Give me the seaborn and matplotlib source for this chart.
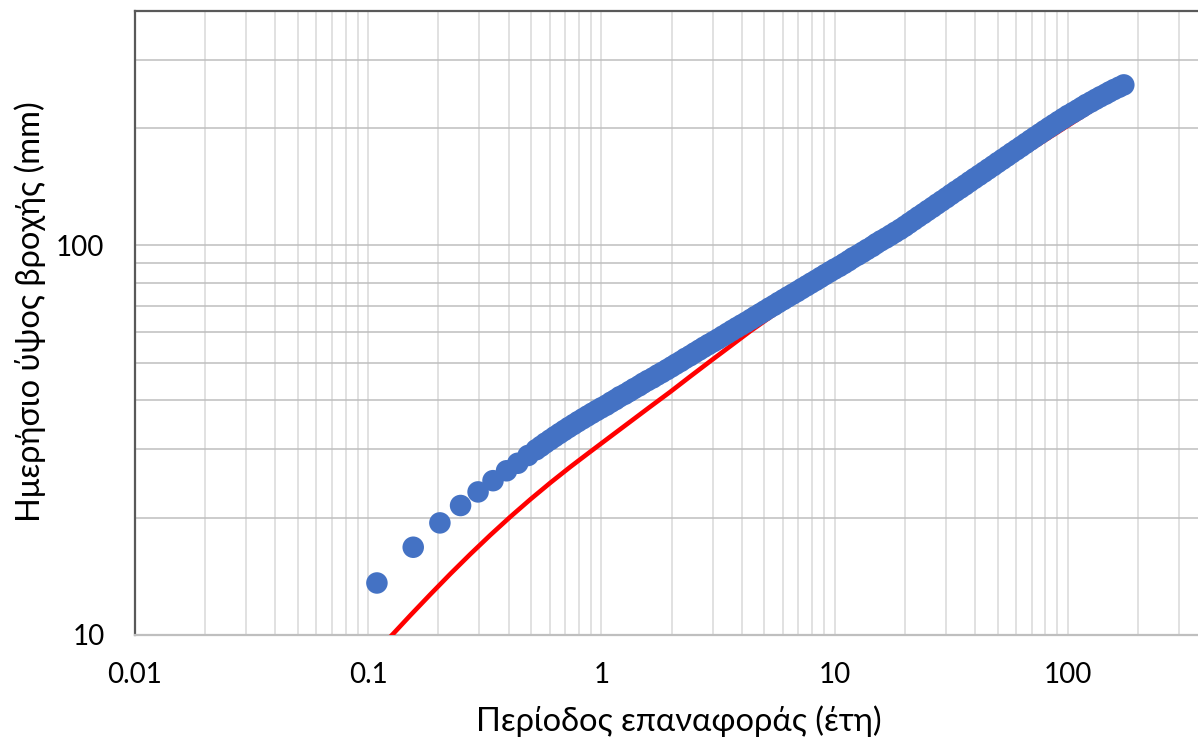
import matplotlib
matplotlib.use("Agg")
import matplotlib.pyplot as plt
from matplotlib.ticker import FixedLocator, FixedFormatter, NullFormatter
import pandas as pd
import seaborn as sns

# Observed daily rainfall depths (mm) vs. empirical return period (years)
obs_period = [0.109, 0.156, 0.203, 0.249, 0.296, 0.343, 0.392, 0.438, 0.485,
              0.525, 0.550, 0.575, 0.603, 0.631, 0.661, 0.692, 0.724, 0.759, 0.794,
              0.832, 0.871, 0.912, 0.955, 1.0, 1.05, 1.10, 1.15, 1.20, 1.26,
              1.32, 1.38, 1.45, 1.51, 1.58, 1.66, 1.74, 1.82, 1.91, 2.00,
              2.09, 2.19, 2.29, 2.40, 2.51, 2.63, 2.75, 2.88, 3.02, 3.16,
              3.31, 3.47, 3.63, 3.80, 3.98, 4.17, 4.37, 4.57, 4.79, 5.01,
              5.25, 5.50, 5.75, 6.03, 6.31, 6.61, 6.92, 7.24, 7.59, 7.94,
              8.32, 8.71, 9.12, 9.55, 10.0, 10.5, 11.0, 11.5, 12.0, 12.6,
              13.2, 13.8, 14.5, 15.1, 15.8, 16.6, 17.4, 18.2, 19.1, 20.0,
              20.9, 21.9, 22.9, 24.0, 25.1, 26.3, 27.5, 28.8, 30.2, 31.6,
              33.1, 34.7, 36.3, 38.0, 39.8, 41.7, 43.7, 45.7, 47.9, 50.1,
              52.5, 55.0, 57.5, 60.3, 63.1, 66.1, 69.2, 72.4, 75.9, 79.4,
              83.2, 87.1, 91.2, 95.5, 100.0, 105.0, 110.0, 115.0, 120.0, 126.0,
              132.0, 138.0, 145.0, 151.0, 158.0, 166.0, 174.0]
obs_depth = [13.6, 16.8, 19.4, 21.5, 23.3, 24.9, 26.4, 27.6, 28.9,
             29.9, 30.5, 31.1, 31.7, 32.3, 32.9, 33.5, 34.1, 34.7, 35.3,
             35.9, 36.5, 37.1, 37.7, 38.3, 38.9, 39.6, 40.2, 40.9, 41.5,
             42.2, 42.9, 43.6, 44.3, 45.0, 45.7, 46.5, 47.2, 48.0, 48.8,
             49.6, 50.4, 51.3, 52.1, 53.0, 53.9, 54.8, 55.7, 56.6, 57.5,
             58.5, 59.5, 60.5, 61.5, 62.5, 63.5, 64.6, 65.7, 66.8, 67.9,
             69.1, 70.2, 71.4, 72.6, 73.8, 75.0, 76.2, 77.5, 78.8, 80.1,
             81.4, 82.8, 84.2, 85.6, 87.0, 88.4, 89.9, 91.4, 93.0, 94.5,
             96.1, 97.7, 99.4, 101.1, 102.8, 104.5, 106.3, 108.1, 110.0, 112.0,
             114.1, 116.3, 118.5, 120.7, 123.0, 125.3, 127.7, 130.1, 132.6, 135.2,
             137.8, 140.4, 143.0, 145.8, 148.6, 151.4, 154.3, 157.2, 160.2, 163.3,
             166.4, 169.6, 172.8, 176.1, 179.4, 182.9, 186.4, 189.9, 193.5, 197.1,
             200.8, 204.4, 208.1, 211.8, 215.6, 219.2, 222.8, 226.4, 230.1, 233.7,
             237.4, 240.9, 244.5, 247.9, 251.4, 254.9, 258.4]

# Fitted distribution curve
fit_period = [0.1246, 0.1518, 0.1849, 0.2253, 0.2745, 0.3343, 0.4073, 0.4962,
              0.6044, 0.7363, 0.8970, 1.093, 1.331, 1.622, 1.976, 2.407,
              2.933, 3.573, 4.353, 5.572, 7.132, 11.68, 19.14, 31.35,
              51.36, 76.24, 113.1, 168.0]
fit_depth = [9.90, 11.24, 12.72, 14.36, 16.14, 18.06, 20.12, 22.30,
             24.60, 27.02, 29.56, 32.31, 35.30, 38.58, 42.11, 46.13,
             50.47, 55.14, 60.28, 66.86, 74.17, 89.37, 106.7, 129.7,
             157.3, 182.9, 212.7, 247.4]

x_ticks = [0.01, 0.1, 1, 10, 100]
x_tick_labels = ["0.01", "0.1", "1", "10", "100"]
y_ticks = [10, 100]
y_tick_labels = ["10", "100"]

x_label = "Περίοδος επαναφοράς (έτη)"
y_label = "Ημερήσιο ύψος βροχής (mm)"

sns.set_theme(style="white")
plt.rcParams["font.family"] = ["Lato", "Open Sans", "DejaVu Sans"]

obs = pd.DataFrame({"T": obs_period, "P": obs_depth})
fit = pd.DataFrame({"T": fit_period, "P": fit_depth})

fig = plt.figure(figsize=(11.98, 7.37), dpi=100)
ax = fig.add_axes([0.1127, 0.1384, 0.8873, 0.8467])
ax.set_xscale("log")
ax.set_yscale("log")

sns.lineplot(data=fit, x="T", y="P", color="#FF0000", linewidth=3.3,
             estimator=None, sort=False, ax=ax, zorder=3)
sns.scatterplot(data=obs, x="T", y="P", color="#4472C4", s=240,
                edgecolor="none", linewidth=0, ax=ax, zorder=4)

ax.set_xlim(0.01, 362)
ax.set_ylim(10, 400)

# Grid at every major and minor decade step
x_minor = [m * 10.0 ** e for e in range(-2, 3) for m in range(2, 10)]
y_minor = [m * 10.0 ** e for e in range(1, 3) for m in range(2, 10)]
ax.xaxis.set_major_locator(FixedLocator(x_ticks))
ax.xaxis.set_major_formatter(FixedFormatter(x_tick_labels))
ax.xaxis.set_minor_locator(FixedLocator(x_minor))
ax.xaxis.set_minor_formatter(NullFormatter())
ax.yaxis.set_major_locator(FixedLocator(y_ticks))
ax.yaxis.set_major_formatter(FixedFormatter(y_tick_labels))
ax.yaxis.set_minor_locator(FixedLocator(y_minor))
ax.yaxis.set_minor_formatter(NullFormatter())

ax.grid(True, axis="x", which="both", color="#d9d9d9", linewidth=1.1, zorder=0)
ax.grid(True, axis="y", which="both", color="#bfbfbf", linewidth=1.1, zorder=0)
ax.set_axisbelow(True)

ax.tick_params(axis="both", which="both", length=0)
ax.tick_params(axis="x", which="major", labelsize=20, pad=19.5, colors="black")
ax.tick_params(axis="y", which="major", labelsize=20, pad=22, colors="black")

for side in ["left", "top"]:
    ax.spines[side].set_color("#595959")
    ax.spines[side].set_linewidth(1.6)
ax.spines["bottom"].set_color("#bfbfbf")
ax.spines["bottom"].set_linewidth(1.6)
ax.spines["right"].set_visible(False)

ax.set_xlabel(x_label, fontsize=23.5, color="black")
ax.set_ylabel(y_label, fontsize=23.5, color="black")
ax.xaxis.set_label_coords(0.512, -0.138)
ax.yaxis.set_label_coords(-0.0988, 0.519)
ax.xaxis.label.set_va("center")
ax.yaxis.label.set_va("center")

fig.savefig("out.png", dpi=100, facecolor="white")
